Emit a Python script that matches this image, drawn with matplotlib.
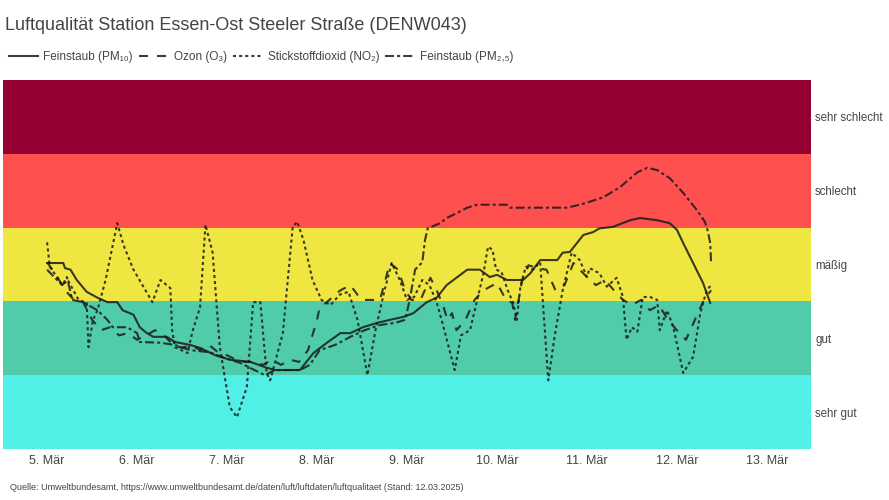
import matplotlib
matplotlib.use("Agg")
import matplotlib.pyplot as plt

plt.rcParams['font.family'] = ['Liberation Sans', 'DejaVu Sans']
plt.rcParams['lines.scale_dashes'] = False

# Bewertungsstufen (Index 0..5) und Farben des UBA
stufen = ["sehr gut", "gut", "mäßig", "schlecht", "sehr schlecht"]
stufen_farben = ["#50F0E6", "#50CCAA", "#F0E641", "#FF5050", "#960032"]

tage_ticks = [5, 6, 7, 8, 9, 10, 11, 12, 13]
tage_labels = ["5. Mär", "6. Mär", "7. Mär", "8. Mär", "9. Mär",
               "10. Mär", "11. Mär", "12. Mär", "13. Mär"]

# Feinstaub PM10
pm10_tag = [5.00, 5.18, 5.20, 5.26, 5.33, 5.44, 5.56, 5.67, 5.78, 5.84, 5.96, 6.03, 6.11, 6.18,
            6.33, 6.42, 6.59, 6.70, 6.87, 7.03, 7.26, 7.42, 7.53, 7.81, 7.96, 8.11, 8.26, 8.37,
            8.51, 8.67, 8.81, 8.96, 9.07, 9.22, 9.33, 9.44, 9.56, 9.67, 9.81, 9.92, 10.00, 10.11,
            10.29, 10.37, 10.48, 10.67, 10.73, 10.81, 10.96, 11.07, 11.14, 11.29, 11.48, 11.59,
            11.78, 11.92, 12.00, 12.07, 12.18, 12.29, 12.37]
pm10_index = [2.52, 2.52, 2.45, 2.43, 2.29, 2.13, 2.05, 1.99, 1.99, 1.88, 1.82, 1.65, 1.57, 1.52,
              1.52, 1.45, 1.41, 1.37, 1.27, 1.21, 1.18, 1.11, 1.07, 1.07, 1.30, 1.44, 1.57, 1.57,
              1.65, 1.71, 1.75, 1.79, 1.84, 1.99, 2.05, 2.22, 2.33, 2.43, 2.43, 2.33, 2.36, 2.29,
              2.29, 2.38, 2.56, 2.56, 2.66, 2.67, 2.90, 2.94, 2.99, 3.01, 3.10, 3.13,
              3.10, 3.06, 2.97, 2.79, 2.52, 2.25, 1.98]

# Ozon
o3_tag = [5.00, 5.10, 5.20, 5.30, 5.40, 5.50, 5.60, 5.70, 5.80, 5.90, 6.00, 6.10, 6.20, 6.30,
          6.40, 6.50, 6.60, 6.70, 6.80, 6.90, 7.00, 7.10, 7.20, 7.30, 7.40, 7.50, 7.60, 7.70,
          7.80, 7.90, 8.00, 8.03, 8.10, 8.20, 8.26, 8.37, 8.45, 8.50, 8.60, 8.70, 8.81, 8.90,
          8.98, 9.05, 9.15, 9.26, 9.33, 9.40, 9.45, 9.50, 9.55, 9.65, 9.75, 9.85, 10.00, 10.10,
          10.17, 10.20, 10.28, 10.35, 10.45, 10.55, 10.65, 10.75, 10.85, 10.92, 11.00, 11.10,
          11.20, 11.30, 11.40, 11.50, 11.60, 11.70, 11.80, 11.90, 12.00, 12.10, 12.20, 12.30, 12.38]
o3_index = [2.53, 2.36, 2.15, 2.02, 1.99, 1.75, 1.61, 1.65, 1.54, 1.57, 1.48, 1.54, 1.61, 1.54,
            1.41, 1.37, 1.41, 1.34, 1.41, 1.31, 1.27, 1.21, 1.18, 1.18, 1.14, 1.21, 1.14, 1.21,
            1.18, 1.34, 1.75, 1.92, 1.98, 2.09, 2.15, 2.22, 2.09, 2.02, 2.02, 2.02, 2.52, 2.43,
            2.15, 2.02, 2.02, 2.32, 2.15, 1.95, 1.75, 1.84, 1.61, 1.75, 2.02, 2.15, 2.25, 2.02,
            1.98, 1.75, 2.29, 2.49, 2.45, 2.43, 2.15, 2.22, 2.52, 2.43, 2.33, 2.22,
            2.29, 2.15, 2.02, 1.95, 2.02, 1.88, 1.95, 1.75, 1.61, 1.48, 1.75, 2.02, 2.15]

# Stickstoffdioxid
no2_tag = [5.00, 5.03, 5.17, 5.23, 5.35, 5.44, 5.46, 5.51, 5.56, 5.65, 5.78, 5.85, 5.96, 6.07,
           6.17, 6.26, 6.37, 6.39, 6.42, 6.56, 6.62, 6.70, 6.76, 6.84, 6.92, 7.03, 7.11, 7.22,
           7.29, 7.37, 7.44, 7.48, 7.62, 7.73, 7.78, 7.85, 7.95, 8.05, 8.15, 8.25, 8.35, 8.45,
           8.56, 8.65, 8.75, 8.83, 8.92, 9.00, 9.08, 9.17, 9.25, 9.33, 9.40, 9.53, 9.60, 9.70,
           9.78, 9.85, 9.90, 9.95, 9.99, 10.05, 10.12, 10.18, 10.22, 10.26, 10.32, 10.40, 10.48,
           10.57, 10.64, 10.73, 10.83, 10.92, 11.00, 11.03, 11.14, 11.22, 11.33, 11.40, 11.44,
           11.50, 11.56, 11.62, 11.70, 11.78, 11.81, 11.89, 11.96, 12.07, 12.18, 12.26, 12.33, 12.38]
no2_index = [2.80, 2.47, 2.22, 2.29, 2.02, 1.98, 1.38, 1.75, 1.88, 2.29, 3.06, 2.76, 2.43, 2.20,
             1.99, 2.29, 2.18, 1.61, 1.38, 1.30, 1.61, 1.92, 3.04, 2.66, 1.38, 0.57, 0.43, 0.84,
             1.99, 1.99, 1.03, 0.93, 1.57, 3.01, 3.08, 2.83, 2.29, 2.02, 1.95, 2.09, 2.13, 1.75,
             1.00, 1.61, 2.15, 2.52, 2.29, 2.02, 2.06, 2.29, 2.22, 1.99, 1.68, 1.07, 1.54, 1.61,
             2.02, 2.38, 2.74, 2.70, 2.43, 2.40, 2.15, 1.98, 1.75, 2.20, 2.47, 2.43, 2.53,
             0.93, 1.52, 2.15, 2.66, 2.56, 2.33, 2.45, 2.38, 2.20, 2.32, 2.06, 1.48,
             1.65, 1.59, 2.06, 2.06, 2.02, 1.61, 1.88, 1.65, 1.03, 1.25, 1.84, 2.15, 2.22]

# Feinstaub PM2,5
pm25_tag = [5.00, 5.11, 5.17, 5.22, 5.28, 5.40, 5.56, 5.67, 5.73, 5.89, 6.00, 6.03, 6.26, 6.42,
            6.59, 6.81, 6.98, 7.14, 7.42, 7.53, 7.81, 7.92, 8.03, 8.20, 8.31, 8.37, 8.53, 8.70,
            8.87, 8.98, 9.03, 9.09, 9.17, 9.20, 9.23, 9.37, 9.44, 9.56, 9.67, 9.78, 10.11, 10.14,
            10.78, 10.92, 11.03, 11.18, 11.37, 11.56, 11.67, 11.78, 11.92, 12.07, 12.22, 12.31,
            12.34, 12.37, 12.38]
pm25_index = [2.43, 2.29, 2.22, 2.33, 2.02, 1.99, 1.88, 1.75, 1.65, 1.65, 1.57, 1.45, 1.44, 1.41,
              1.34, 1.31, 1.23, 1.17, 1.00, 1.07, 1.07, 1.14, 1.34, 1.41, 1.48, 1.52, 1.61, 1.68,
              1.71, 1.75, 2.02, 2.43, 2.53, 2.83, 2.99, 3.06, 3.13, 3.20, 3.27, 3.31, 3.31, 3.27,
              3.27, 3.31, 3.35, 3.41, 3.55, 3.75, 3.81, 3.78, 3.67, 3.47, 3.24, 3.08,
              2.97, 2.79, 2.52]

fig = plt.figure(figsize=(8.89, 5.0), dpi=100)
ax = fig.add_axes([3 / 889, 51 / 500, 808 / 889, 369 / 500])

# Farbbänder der Bewertung
for i, farbe in enumerate(stufen_farben):
    ax.axhspan(i, i + 1, color=farbe, lw=0, zorder=0)

linie = dict(color="#1a1a1a", alpha=0.85, lw=1.5, zorder=3)
ax.plot(pm10_tag, pm10_index, linestyle="-", label="Feinstaub (PM₁₀)", **linie)
ax.plot(o3_tag, o3_index, linestyle=(0, (6.5, 6.5)), label="Ozon (O₃)", **linie)
ax.plot(no2_tag, no2_index, linestyle=(0, (2.2, 2.2)), label="Stickstoffdioxid (NO₂)", **linie)
ax.plot(pm25_tag, pm25_index, linestyle=(0, (6.5, 2.2, 2.2, 2.2)), label="Feinstaub (PM₂,₅)", **linie)

ax.set_xlim(4.51, 13.49)
ax.set_ylim(0, 5)
ax.set_xticks(tage_ticks)
ax.set_xticklabels(tage_labels)
ax.set_yticks([i + 0.5 for i in range(len(stufen))])
ax.set_yticklabels(stufen)
ax.yaxis.tick_right()
ax.tick_params(axis="both", length=0, labelsize=9, colors="#444444")
ax.tick_params(axis="x", pad=4)
ax.tick_params(axis="y", pad=3, labelsize=8.3)
for s in ax.spines.values():
    s.set_visible(False)

fig.text(5 / 889, 1 - 25 / 500, "Luftqualität Station Essen-Ost Steeler Straße (DENW043)",
         fontsize=13, color="#444444", va="center", ha="left")

handles, labels = ax.get_legend_handles_labels()
fig.legend(handles, labels, loc="center left", bbox_to_anchor=(5 / 889, 1 - 57 / 500), ncol=4,
           frameon=False, fontsize=8.5, handlelength=2.5, handletextpad=0.45,
           columnspacing=0.5, borderaxespad=0, borderpad=0.3, labelcolor="#444444")

fig.text(10 / 889, 1 - 487 / 500,
         "Quelle: Umweltbundesamt, https://www.umweltbundesamt.de/daten/luft/luftdaten/luftqualitaet (Stand: 12.03.2025)",
         fontsize=6.5, color="#444444", va="center", ha="left")

fig.savefig("out.png", dpi=100)
